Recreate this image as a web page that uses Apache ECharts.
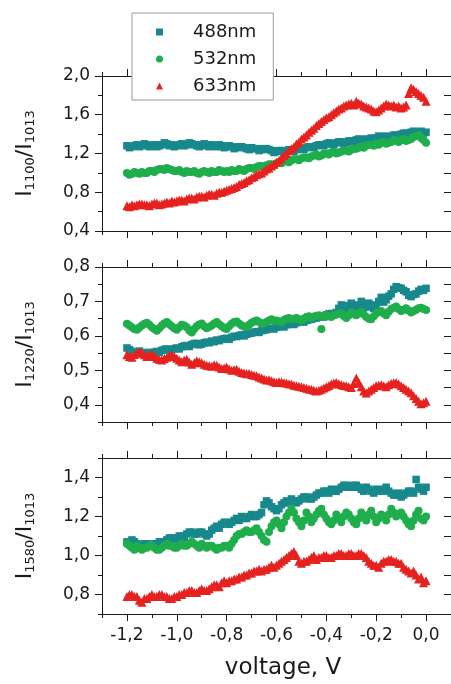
<!DOCTYPE html>
<html>
<head>
<meta charset="utf-8">
<script src="https://cdn.jsdelivr.net/npm/echarts@6/dist/echarts.min.js"></script>
<style>
  html, body { margin: 0; padding: 0; background: #ffffff; }
  #chart { width: 451px; height: 684px; }
</style>
</head>
<body>
<div id="chart"></div>
<script>
// Applied voltage (V)
const voltage = [-1.2,-1.19,-1.18,-1.17,-1.16,-1.15,-1.14,-1.13,-1.12,-1.11,
  -1.1,-1.09,-1.08,-1.07,-1.06,-1.05,-1.04,-1.03,-1.02,-1.01,
  -1,-0.99,-0.98,-0.97,-0.96,-0.95,-0.94,-0.93,-0.92,-0.91,
  -0.9,-0.89,-0.88,-0.87,-0.86,-0.85,-0.84,-0.83,-0.82,-0.81,
  -0.8,-0.79,-0.78,-0.77,-0.76,-0.75,-0.74,-0.73,-0.72,-0.71,
  -0.7,-0.69,-0.68,-0.67,-0.66,-0.65,-0.64,-0.63,-0.62,-0.61,
  -0.6,-0.59,-0.58,-0.57,-0.56,-0.55,-0.54,-0.53,-0.52,-0.51,
  -0.5,-0.49,-0.48,-0.47,-0.46,-0.45,-0.44,-0.43,-0.42,-0.41,
  -0.4,-0.39,-0.38,-0.37,-0.36,-0.35,-0.34,-0.33,-0.32,-0.31,
  -0.3,-0.29,-0.28,-0.27,-0.26,-0.25,-0.24,-0.23,-0.22,-0.21,
  -0.2,-0.19,-0.18,-0.17,-0.16,-0.15,-0.14,-0.13,-0.12,-0.11,
  -0.1,-0.09,-0.08,-0.07,-0.06,-0.05,-0.04,-0.03,-0.02,-0.01,0];

// I1100 / I1013
const r1100_488 = [1.28,1.26,1.27,1.28,1.29,1.27,1.28,1.30,1.29,1.27,1.28,1.29,1.27,1.28,1.29,1.31,1.30,1.28,1.29,1.27,
  1.28,1.29,1.30,1.28,1.29,1.31,1.30,1.29,1.28,1.27,1.29,1.30,1.28,1.27,1.29,1.28,1.27,1.29,1.28,1.26,
  1.27,1.28,1.27,1.25,1.26,1.27,1.27,1.26,1.25,1.24,1.26,1.25,1.25,1.23,1.24,1.25,1.25,1.24,1.23,1.21,
  1.22,1.23,1.23,1.21,1.22,1.24,1.23,1.22,1.24,1.25,1.25,1.24,1.26,1.27,1.27,1.26,1.28,1.29,1.29,1.28,
  1.30,1.31,1.30,1.29,1.31,1.32,1.32,1.30,1.31,1.33,1.33,1.32,1.34,1.35,1.33,1.34,1.35,1.34,1.36,1.35,
  1.36,1.38,1.37,1.36,1.38,1.37,1.37,1.39,1.39,1.38,1.40,1.41,1.41,1.40,1.42,1.43,1.41,1.42,1.43,1.41,1.42];
const r1100_532 = [1.00,0.98,0.99,1.01,1.00,0.99,1.01,1.00,1.00,1.02,1.02,1.01,1.03,1.04,1.04,1.03,1.05,1.04,1.03,1.02,
  1.02,1.03,1.01,1.00,1.02,1.01,1.01,1.02,1.00,0.99,1.01,1.02,1.01,1.00,1.02,1.01,1.01,1.03,1.02,1.01,
  1.02,1.01,1.03,1.02,1.02,1.04,1.03,1.02,1.04,1.05,1.05,1.04,1.06,1.07,1.07,1.06,1.08,1.09,1.09,1.08,
  1.10,1.11,1.10,1.12,1.12,1.11,1.13,1.14,1.14,1.13,1.15,1.16,1.16,1.15,1.17,1.18,1.19,1.17,1.18,1.20,
  1.20,1.19,1.21,1.22,1.20,1.21,1.22,1.23,1.23,1.22,1.24,1.25,1.25,1.26,1.27,1.26,1.28,1.29,1.29,1.28,
  1.30,1.29,1.31,1.32,1.30,1.31,1.32,1.34,1.33,1.32,1.34,1.35,1.33,1.34,1.35,1.37,1.38,1.39,1.36,1.34,1.31];
const r1100_633 = [0.66,0.65,0.67,0.66,0.67,0.68,0.68,0.67,0.67,0.66,0.68,0.69,0.69,0.67,0.68,0.69,0.70,0.69,0.71,0.70,
  0.71,0.72,0.72,0.71,0.73,0.74,0.74,0.73,0.75,0.76,0.76,0.75,0.77,0.78,0.78,0.77,0.79,0.80,0.80,0.81,
  0.82,0.83,0.84,0.85,0.86,0.88,0.89,0.90,0.92,0.93,0.95,0.96,0.98,0.99,1.00,1.02,1.04,1.05,1.07,1.09,
  1.11,1.13,1.15,1.18,1.20,1.23,1.25,1.27,1.30,1.32,1.35,1.37,1.39,1.42,1.44,1.46,1.49,1.51,1.53,1.55,
  1.57,1.58,1.60,1.62,1.64,1.66,1.67,1.69,1.70,1.71,1.72,1.70,1.74,1.72,1.71,1.69,1.68,1.67,1.66,1.64,
  1.63,1.65,1.67,1.69,1.71,1.70,1.69,1.70,1.68,1.69,1.67,1.68,1.70,1.82,1.88,1.86,1.84,1.82,1.80,1.78,1.74];

// I1220 / I1013
const r1220_488 = [0.565,0.560,0.555,0.550,0.552,0.556,0.548,0.545,0.552,0.549,0.550,0.553,0.555,0.552,0.558,0.561,0.562,0.558,0.560,0.563,
  0.565,0.562,0.568,0.571,0.572,0.569,0.575,0.578,0.578,0.574,0.576,0.580,0.582,0.580,0.585,0.583,0.588,0.586,0.590,0.592,
  0.593,0.590,0.596,0.599,0.598,0.601,0.603,0.600,0.605,0.607,0.608,0.611,0.612,0.610,0.615,0.617,0.618,0.621,0.622,0.620,
  0.625,0.627,0.628,0.626,0.632,0.634,0.635,0.633,0.638,0.641,0.642,0.640,0.645,0.647,0.648,0.651,0.652,0.655,0.657,0.655,
  0.661,0.664,0.665,0.662,0.668,0.680,0.690,0.670,0.672,0.688,0.695,0.674,0.676,0.690,0.700,0.682,0.684,0.695,0.690,0.680,
  0.682,0.700,0.712,0.698,0.705,0.715,0.722,0.735,0.743,0.740,0.738,0.732,0.728,0.718,0.714,0.720,0.722,0.730,0.735,0.732,0.738];
const r1220_532 = [0.635,0.630,0.625,0.620,0.618,0.624,0.630,0.635,0.638,0.632,0.625,0.620,0.615,0.622,0.630,0.636,0.640,0.634,0.628,0.622,
  0.618,0.625,0.632,0.630,0.625,0.616,0.610,0.620,0.628,0.633,0.636,0.628,0.622,0.626,0.630,0.636,0.640,0.634,0.628,0.623,
  0.620,0.628,0.635,0.640,0.642,0.636,0.630,0.627,0.625,0.632,0.638,0.642,0.645,0.640,0.635,0.637,0.640,0.645,0.648,0.643,
  0.645,0.642,0.640,0.646,0.650,0.652,0.648,0.650,0.652,0.648,0.645,0.650,0.655,0.657,0.652,0.656,0.658,0.660,0.620,0.655,
  0.660,0.657,0.655,0.660,0.662,0.664,0.665,0.658,0.652,0.660,0.668,0.664,0.660,0.666,0.670,0.662,0.655,0.650,0.648,0.657,
  0.665,0.670,0.672,0.665,0.660,0.670,0.678,0.682,0.685,0.678,0.672,0.676,0.680,0.674,0.668,0.672,0.676,0.680,0.682,0.678,0.675];
const r1220_633 = [0.545,0.540,0.538,0.546,0.550,0.553,0.552,0.545,0.540,0.544,0.548,0.540,0.535,0.532,0.530,0.534,0.538,0.542,0.545,0.540,
  0.535,0.530,0.525,0.529,0.532,0.524,0.518,0.522,0.528,0.525,0.522,0.518,0.515,0.513,0.512,0.516,0.515,0.510,0.505,0.507,
  0.510,0.504,0.500,0.502,0.503,0.497,0.494,0.492,0.490,0.491,0.488,0.486,0.484,0.481,0.478,0.475,0.472,0.473,0.470,0.467,
  0.465,0.467,0.466,0.464,0.463,0.461,0.460,0.457,0.455,0.454,0.452,0.450,0.448,0.446,0.445,0.442,0.440,0.442,0.445,0.449,
  0.452,0.456,0.460,0.463,0.465,0.461,0.458,0.456,0.455,0.452,0.450,0.462,0.478,0.465,0.452,0.440,0.434,0.440,0.445,0.450,
  0.455,0.457,0.458,0.455,0.452,0.458,0.462,0.464,0.465,0.460,0.455,0.450,0.445,0.440,0.435,0.426,0.418,0.410,0.403,0.406,0.410];

// I1580 / I1013
const r1580_488 = [1.07,1.06,1.08,1.07,1.06,1.05,1.05,1.06,1.06,1.05,1.05,1.06,1.06,1.07,1.07,1.06,1.08,1.09,1.09,1.08,
  1.09,1.10,1.10,1.09,1.11,1.12,1.12,1.11,1.11,1.12,1.12,1.11,1.10,1.11,1.13,1.14,1.15,1.14,1.16,1.17,
  1.17,1.16,1.17,1.18,1.19,1.18,1.20,1.19,1.19,1.20,1.21,1.20,1.20,1.21,1.22,1.26,1.28,1.27,1.25,1.24,
  1.23,1.24,1.26,1.27,1.28,1.27,1.29,1.28,1.27,1.28,1.29,1.30,1.30,1.29,1.29,1.30,1.31,1.32,1.32,1.33,
  1.33,1.32,1.34,1.33,1.33,1.34,1.35,1.36,1.36,1.35,1.35,1.36,1.36,1.35,1.34,1.33,1.35,1.34,1.33,1.32,
  1.34,1.33,1.33,1.34,1.35,1.33,1.32,1.31,1.31,1.32,1.30,1.31,1.32,1.33,1.33,1.32,1.39,1.35,1.34,1.33,1.35];
const r1580_532 = [1.06,1.05,1.04,1.03,1.05,1.04,1.03,1.04,1.04,1.05,1.05,1.04,1.03,1.03,1.04,1.05,1.06,1.05,1.05,1.04,
  1.04,1.05,1.06,1.05,1.05,1.06,1.07,1.06,1.05,1.04,1.06,1.05,1.04,1.05,1.05,1.04,1.03,1.04,1.04,1.05,
  1.05,1.04,1.06,1.08,1.10,1.11,1.11,1.12,1.13,1.12,1.12,1.13,1.14,1.12,1.10,1.08,1.07,1.12,1.15,1.17,
  1.18,1.16,1.14,1.17,1.20,1.22,1.24,1.22,1.19,1.17,1.15,1.18,1.22,1.20,1.17,1.19,1.21,1.23,1.24,1.21,
  1.19,1.17,1.16,1.18,1.21,1.19,1.17,1.20,1.22,1.21,1.19,1.17,1.16,1.19,1.22,1.20,1.18,1.21,1.23,1.20,
  1.17,1.19,1.21,1.20,1.18,1.21,1.24,1.22,1.20,1.21,1.22,1.20,1.18,1.16,1.15,1.18,1.21,1.23,1.19,1.18,1.20];
const r1580_633 = [0.79,0.80,0.80,0.79,0.79,0.77,0.76,0.78,0.78,0.79,0.80,0.79,0.79,0.80,0.80,0.79,0.79,0.78,0.78,0.79,
  0.79,0.80,0.80,0.81,0.81,0.82,0.82,0.81,0.81,0.82,0.83,0.82,0.82,0.83,0.84,0.85,0.85,0.84,0.86,0.87,
  0.86,0.87,0.87,0.88,0.88,0.89,0.89,0.90,0.90,0.91,0.91,0.92,0.92,0.93,0.92,0.93,0.93,0.94,0.95,0.94,
  0.95,0.96,0.97,0.98,0.99,1.00,1.01,1.02,1.00,0.97,0.96,0.97,0.97,0.98,0.99,1.00,0.98,0.99,0.99,1.00,
  1.00,0.99,0.99,1.00,1.00,1.01,1.01,1.00,1.00,1.01,1.01,1.00,1.00,1.01,1.01,1.00,0.99,0.97,0.96,0.95,
  0.95,0.94,0.96,0.97,0.97,0.98,0.98,0.97,0.97,0.96,0.96,0.94,0.93,0.92,0.91,0.92,0.90,0.88,0.89,0.86,0.87];

// Tick positions (labelled majors and unlabelled minors)
const xMajor = [-1.2, -1.0, -0.8, -0.6, -0.4, -0.2, 0.0];
const xMinor = [-1.3, -1.1, -0.9, -0.7, -0.5, -0.3, -0.1, 0.1];
const y1100Major = [0.4, 0.8, 1.2, 1.6, 2.0];
const y1100Minor = [0.6, 1.0, 1.4, 1.8];
const y1220Major = [0.4, 0.5, 0.6, 0.7, 0.8];
const y1220Minor = [0.35, 0.45, 0.55, 0.65, 0.75];
const y1580Major = [0.8, 1.0, 1.2, 1.4];
const y1580Minor = [0.7, 0.9, 1.1, 1.3, 1.5];

const wavelengths = ['488nm', '532nm', '633nm'];
const colors = ['#17898c', '#1eae4b', '#e5221f'];
const symbols = ['rect', 'circle', 'triangle'];
const symbolSizes = [7.5, 8, 9];

const FONT = 'DejaVu Sans';
const INK = '#1a1a1a';

const panels = [
  { top: 76,  height: 155, yMin: 0.4,  yMax: 2.0, major: y1100Major, minor: y1100Minor,
    band: ['1100', '1013'], data: [r1100_488, r1100_532, r1100_633] },
  { top: 267, height: 155, yMin: 0.35, yMax: 0.8, major: y1220Major, minor: y1220Minor,
    band: ['1220', '1013'], data: [r1220_488, r1220_532, r1220_633] },
  { top: 458, height: 156, yMin: 0.7,  yMax: 1.5, major: y1580Major, minor: y1580Minor,
    band: ['1580', '1013'], data: [r1580_488, r1580_532, r1580_633] }
];

const comma = v => v.toFixed(1).replace('.', ',');

const grids = [], xAxes = [], yAxes = [], series = [];

panels.forEach((p, g) => {
  grids.push({ left: 102, right: -2, top: p.top, height: p.height });

  const xBase = { type: 'value', gridIndex: g, min: -1.3, max: 0.1, splitLine: { show: false } };
  const yBase = { type: 'value', gridIndex: g, min: p.yMin, max: p.yMax, splitLine: { show: false } };
  const line = show => ({ show, onZero: false, lineStyle: { color: INK, width: 1 } });
  const ticks = (values, length, inside) => ({ show: true, customValues: values, length, inside,
    lineStyle: { color: INK, width: 1 } });
  const noLabel = { show: false };

  // bottom / top frame of the panel
  xAxes.push(
    Object.assign({}, xBase, { position: 'bottom', axisLine: line(true), axisTick: ticks(xMajor, 7, false),
      axisLabel: { show: g === 2, customValues: xMajor, formatter: comma, margin: 13,
        fontFamily: FONT, fontSize: 17, color: INK } }),
    Object.assign({}, xBase, { position: 'bottom', axisLine: line(false), axisTick: ticks(xMinor, 4, false), axisLabel: noLabel }),
    Object.assign({}, xBase, { position: 'top', axisLine: line(true), axisTick: ticks(xMajor, 7, false), axisLabel: noLabel }),
    Object.assign({}, xBase, { position: 'top', axisLine: line(false), axisTick: ticks(xMinor, 4, false), axisLabel: noLabel })
  );

  // left / right frame of the panel
  yAxes.push(
    Object.assign({}, yBase, { position: 'left', axisLine: line(true), axisTick: ticks(p.major, 7, false),
      axisLabel: { customValues: p.major, formatter: comma, margin: 12, fontFamily: FONT, fontSize: 17, color: INK },
      name: '{m|I}{s|' + p.band[0] + '}{m|/I}{s|' + p.band[1] + '}',
      nameLocation: 'middle', nameRotate: 90, nameGap: 65,
      nameTextStyle: { rich: {
        m: { fontFamily: FONT, fontSize: 22, color: INK, lineHeight: 24, verticalAlign: 'middle' },
        s: { fontFamily: FONT, fontSize: 13, color: INK, lineHeight: 24, verticalAlign: 'bottom' }
      } } }),
    Object.assign({}, yBase, { position: 'left', axisLine: line(false), axisTick: ticks(p.minor, 4, false), axisLabel: noLabel }),
    Object.assign({}, yBase, { position: 'right', axisLine: line(true), axisTick: ticks(p.major, 7, true), axisLabel: noLabel }),
    Object.assign({}, yBase, { position: 'right', axisLine: line(false), axisTick: ticks(p.minor, 7, true), axisLabel: noLabel })
  );

  p.data.forEach((values, k) => {
    series.push({
      type: 'scatter',
      name: wavelengths[k],
      xAxisIndex: g * 4,
      yAxisIndex: g * 4,
      symbol: symbols[k],
      symbolSize: symbolSizes[k],
      itemStyle: { color: colors[k], opacity: 1 },
      data: voltage.map((v, i) => [v, values[i]])
    });
  });
});

const chart = echarts.init(document.getElementById('chart'), null, { renderer: 'canvas' });
chart.setOption({
  animation: false,
  backgroundColor: '#ffffff',
  grid: grids,
  xAxis: xAxes,
  yAxis: yAxes,
  series: series,
  legend: {
    data: wavelengths.map((name, k) => ({ name, icon: symbols[k] })),
    orient: 'vertical',
    left: 132,
    top: 13,
    itemWidth: 7,
    itemHeight: 7,
    itemGap: 9,
    padding: [10, 17, 5, 24],
    backgroundColor: '#ffffff',
    borderColor: '#9a9a9a',
    borderWidth: 1,
    borderRadius: 0,
    selectedMode: false,
    z: 10,
    textStyle: { fontFamily: FONT, fontSize: 18, color: INK, lineHeight: 18, padding: [0, 0, 0, 25] }
  },
  graphic: [{
    type: 'text',
    x: 283,
    y: 668,
    style: { text: 'voltage, V', fontFamily: FONT, fontSize: 23, fill: INK, align: 'center', verticalAlign: 'middle' }
  }]
});
</script>
</body>
</html>
